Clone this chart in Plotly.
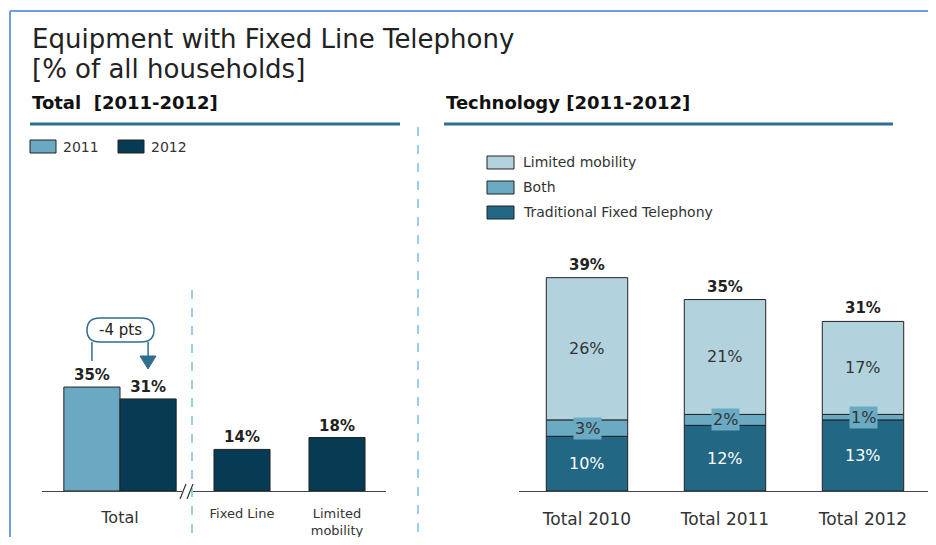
import plotly.graph_objects as go

# data
years = ["2011", "2012"]
total_values = [35, 31]
split_labels = ["Fixed Line", "Limited<br>mobility"]
split_values = [14, 18]
tech_labels = ["Total 2010", "Total 2011", "Total 2012"]
traditional = [10, 12, 13]
both = [3, 2, 1]
limited = [26, 21, 17]
tech_names = ["Limited mobility", "Both", "Traditional Fixed Telephony"]

C2011 = "#6aa9c1"
C2012 = "#063b53"
C_LIM = "#b2d3de"
C_BOTH = "#6aaac3"
C_TRAD = "#226784"
ACCENT = "#2e6f8e"
FONT = "DejaVu Sans"

# the page body has an 8px margin, so the figure is drawn 8px in from the corner
# and kept small enough that the page does not overflow
PAD = 8
W, H = 936 - 2 * PAD, 545 - 2 * PAD


def fx(px):
    return (px - PAD) / W


def fy(py):
    return 1 - (py - PAD) / H


base_y = 491
left_ppu = 2.97
right_ppu = 5.47
ytop = base_y - PAD

fig = go.Figure()

# left: total 2011 vs 2012
w_total = 0.36
for i, (yr, col) in enumerate(zip(years, [C2011, C2012])):
    fig.add_trace(go.Bar(
        x=["Total"], y=[total_values[i]], name=yr,
        width=w_total, offset=-w_total if i == 0 else 0,
        marker=dict(color=col, line=dict(color="#222", width=1)),
        texttemplate="<b>%{y}%</b>", textposition="outside",
        textfont=dict(size=15, color="#222", family=FONT),
        cliponaxis=False, showlegend=False, xaxis="x", yaxis="y",
    ))

# left: split of 2012
fig.add_trace(go.Bar(
    x=split_labels, y=split_values, width=0.59,
    marker=dict(color=C2012, line=dict(color="#222", width=1)),
    texttemplate="<b>%{y}%</b>", textposition="outside",
    textfont=dict(size=15, color="#222", family=FONT),
    cliponaxis=False, showlegend=False, xaxis="x2", yaxis="y2",
))

# right: technology stack
base_both = [a for a in traditional]
base_lim = [a + b for a, b in zip(traditional, both)]
for vals, base, col, name in [(traditional, None, C_TRAD, tech_names[2]),
                              (both, base_both, C_BOTH, tech_names[1]),
                              (limited, base_lim, C_LIM, tech_names[0])]:
    fig.add_trace(go.Bar(
        x=tech_labels, y=vals, base=base, width=0.59, name=name,
        marker=dict(color=col, line=dict(color="#222", width=1)),
        showlegend=False, xaxis="x3", yaxis="y3",
    ))

ann = []
for i, cat in enumerate(tech_labels):
    ann.append(dict(x=cat, y=traditional[i] / 2, xref="x3", yref="y3", text=f"{traditional[i]}%",
                    showarrow=False, font=dict(size=16, color="white", family=FONT)))
    ann.append(dict(x=cat, y=base_both[i] + both[i] / 2, xref="x3", yref="y3", text=f"{both[i]}%",
                    showarrow=False, bgcolor=C_BOTH, borderpad=1,
                    font=dict(size=16, color="#333", family=FONT)))
    ann.append(dict(x=cat, y=base_lim[i] + limited[i] / 2, xref="x3", yref="y3", text=f"{limited[i]}%",
                    showarrow=False, font=dict(size=16, color="#333", family=FONT)))
    tot = traditional[i] + both[i] + limited[i]
    ann.append(dict(x=cat, y=tot, xref="x3", yref="y3", text=f"<b>{tot}%</b>", yanchor="bottom",
                    yshift=2, showarrow=False, font=dict(size=15, color="#222", family=FONT)))


def label(x, y, text, size, color="#222", anchor="left"):
    return dict(x=fx(x), y=fy(y), xref="paper", yref="paper", xanchor=anchor, yanchor="middle",
                text=text, showarrow=False, font=dict(size=size, color=color, family=FONT))


# titles
ann += [
    label(30, 39, "Equipment with Fixed Line Telephony", 26),
    label(30, 69, "[% of all households]", 26),
    label(30, 103, "<b>Total  [2011-2012]</b>", 18, "#111"),
    label(444, 103, "<b>Technology [2011-2012]</b>", 18, "#111"),
    label(120, 330, "-4 pts", 15, anchor="center"),
]

# legends drawn by hand (wide swatches)
shapes = []
for (x0, yr, col) in [(30, years[0], C2011), (118, years[1], C2012)]:
    shapes.append(dict(type="rect", xref="paper", yref="paper", x0=fx(x0), x1=fx(x0 + 26),
                       y0=fy(153), y1=fy(140), fillcolor=col, line=dict(color="#222", width=1)))
    ann.append(label(x0 + 31, 147, yr, 14, "#333"))
for k, (name, col) in enumerate(zip(tech_names, [C_LIM, C_BOTH, C_TRAD])):
    yc = 162 + 25 * k
    shapes.append(dict(type="rect", xref="paper", yref="paper", x0=fx(487), x1=fx(514),
                       y0=fy(yc + 7), y1=fy(yc - 6), fillcolor=col, line=dict(color="#222", width=1)))
    ann.append(label(521, yc, name, 14, "#333"))

# frame, underlines, dividers
shapes += [
    dict(type="line", xref="paper", yref="paper", x0=fx(10), x1=1, y0=fy(11), y1=fy(11),
         line=dict(color="#6b9ee0", width=2)),
    dict(type="line", xref="paper", yref="paper", x0=fx(10), x1=fx(10), y0=fy(11), y1=0,
         line=dict(color="#6b9ee0", width=2)),
    dict(type="line", xref="paper", yref="paper", x0=fx(30), x1=fx(400), y0=fy(124), y1=fy(124),
         line=dict(color=ACCENT, width=3)),
    dict(type="line", xref="paper", yref="paper", x0=fx(444), x1=fx(893), y0=fy(124), y1=fy(124),
         line=dict(color=ACCENT, width=3)),
    dict(type="line", xref="paper", yref="paper", x0=fx(418), x1=fx(418), y0=fy(127), y1=0,
         line=dict(color="#7cc0de", width=1.5, dash="dash")),
    dict(type="line", xref="paper", yref="paper", x0=fx(192), x1=fx(192), y0=fy(290), y1=0,
         line=dict(color="#7cc0de", width=1.5, dash="dash")),
    # axis break marks
    dict(type="line", xref="paper", yref="paper", x0=fx(180), x1=fx(186), y0=fy(499), y1=fy(484),
         line=dict(color="#333", width=1.2)),
    dict(type="line", xref="paper", yref="paper", x0=fx(187), x1=fx(193), y0=fy(499), y1=fy(484),
         line=dict(color="#333", width=1.2)),
    # -4 pts bracket
    dict(type="path", xref="paper", yref="paper", line=dict(color=ACCENT, width=1.5),
         path=f"M {fx(100)} {fy(318)} L {fx(141)} {fy(318)} Q {fx(154)} {fy(318)} {fx(154)} {fy(330)} "
              f"Q {fx(154)} {fy(342)} {fx(141)} {fy(342)} L {fx(100)} {fy(342)} "
              f"Q {fx(87)} {fy(342)} {fx(87)} {fy(330)} Q {fx(87)} {fy(318)} {fx(100)} {fy(318)} Z"),
    dict(type="line", xref="x", yref="paper", x0=-w_total / 2, x1=-w_total / 2, y0=fy(342), y1=fy(361),
         line=dict(color=ACCENT, width=1.5)),
    dict(type="line", xref="x", yref="paper", x0=w_total / 2, x1=w_total / 2, y0=fy(342), y1=fy(357),
         line=dict(color=ACCENT, width=1.5)),
    dict(type="path", xref="paper", yref="paper", fillcolor=ACCENT, line=dict(color=ACCENT, width=1),
         path=f"M {fx(140)} {fy(356)} L {fx(156)} {fy(356)} L {fx(148)} {fy(369)} Z"),
]

xcommon = dict(type="category", showgrid=False, zeroline=False, showline=True,
               linecolor="#444", linewidth=1.2, ticks="", fixedrange=True)
ycommon = dict(showgrid=False, zeroline=False, showticklabels=False, showline=False,
               domain=[fy(base_y), 1], fixedrange=True)

right_end = 928
fig.update_layout(
    width=W, height=H, margin=dict(l=0, r=0, t=0, b=0),
    paper_bgcolor="white", plot_bgcolor="white",
    barmode="overlay", showlegend=False,
    xaxis=dict(xcommon, domain=[fx(42), fx(182)], range=[-(120 - 42) / 156, (182 - 120) / 156],
               tickfont=dict(size=16, color="#333", family=FONT), ticklabelstandoff=12),
    yaxis=dict(ycommon, anchor="x", range=[0, ytop / left_ppu]),
    xaxis2=dict(xcommon, domain=[fx(193), fx(386)], range=[-(242 - 193) / 95, (386 - 242) / 95],
                anchor="y2", tickfont=dict(size=13, color="#333", family=FONT), ticklabelstandoff=10),
    yaxis2=dict(ycommon, anchor="x2", range=[0, ytop / left_ppu]),
    xaxis3=dict(xcommon, domain=[fx(519), fx(right_end)],
                range=[-(587 - 519) / 138, (right_end - 587) / 138],
                anchor="y3", tickfont=dict(size=17, color="#333", family=FONT), ticklabelstandoff=12),
    yaxis3=dict(ycommon, anchor="x3", range=[0, ytop / right_ppu]),
    annotations=ann, shapes=shapes,
)

fig.write_html("out.html")
